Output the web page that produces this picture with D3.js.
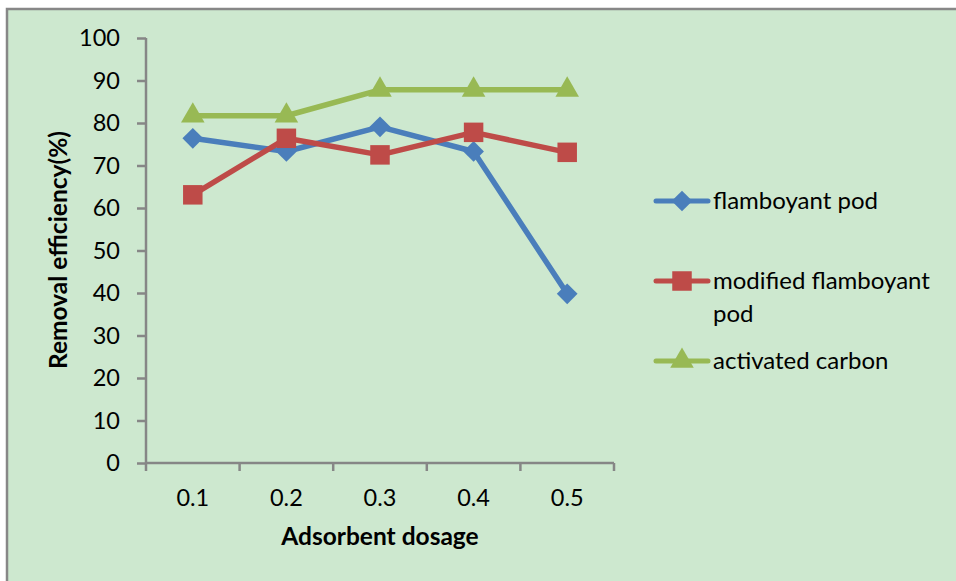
<!DOCTYPE html>
<html>
<head>
<meta charset="utf-8">
<script src="https://cdn.jsdelivr.net/npm/d3@7"></script>
<style>
  body { margin: 0; background: #fff; }
  svg { display: block; }
  text { font-family: Lato, "Open Sans", sans-serif; fill: #000; }
</style>
</head>
<body>
<div id="chart"></div>
<script>
// data
var dosage = ["0.1", "0.2", "0.3", "0.4", "0.5"];
var flamboyant = [76.4, 73.3, 79.1, 73.3, 39.8];
var modified = [63.1, 76.4, 72.5, 77.8, 73.1];
var activated = [81.7, 81.7, 87.8, 87.8, 87.8];
var yTicks = [0, 10, 20, 30, 40, 50, 60, 70, 80, 90, 100];

var seriesList = [
    {name: ["flamboyant pod"], values: flamboyant, color: "#4A7EBB", marker: "diamond"},
    {name: ["modified flamboyant", "pod"], values: modified, color: "#BE4B48", marker: "square"},
    {name: ["activated carbon"], values: activated, color: "#98B954", marker: "triangle"}
];

var svgWidth = 956, svgHeight = 581;
var margin = {top: 38, left: 146};
var width = 468, height = 425;

var svgBG = d3.select("#chart").append("svg")
    .attr("width", svgWidth)
    .attr("height", svgHeight);

// chart area background + frame
svgBG.append("rect")
    .attr("x", 7).attr("y", 9)
    .attr("width", 960).attr("height", 590)
    .attr("fill", "#CDE8CF")
    .attr("stroke", "#878787")
    .attr("stroke-width", 2.5);

var svg = svgBG.append("g")
    .attr("transform", "translate(" + margin.left + "," + margin.top + ")");

var x = d3.scaleBand().domain(dosage).range([0, width]);
var y = d3.scaleLinear().domain([0, 100]).range([height, 0]);

var yAxis = d3.axisLeft(y).tickValues(yTicks).tickSize(9).tickPadding(17);
var xAxis = d3.axisBottom(x).tickSize(0).tickPadding(26);

var yAxisSVG = svg.append("g").attr("class", "y axis").call(yAxis);
var xAxisSVG = svg.append("g").attr("class", "x axis")
    .attr("transform", "translate(0," + height + ")")
    .call(xAxis);

// x ticks sit on band edges
xAxisSVG.selectAll(".edge")
    .data(d3.range(dosage.length + 1))
    .enter().append("line")
    .attr("x1", function(i) { return i * x.step(); })
    .attr("x2", function(i) { return i * x.step(); })
    .attr("y1", 0).attr("y2", 8);

svg.selectAll(".axis path, .axis line")
    .attr("stroke", "#868686")
    .attr("stroke-width", 2.5);
svg.selectAll(".axis path").attr("d", null);
yAxisSVG.append("line").attr("x1", 0).attr("x2", 0).attr("y1", 0).attr("y2", height)
    .attr("stroke", "#868686").attr("stroke-width", 2.5);
xAxisSVG.append("line").attr("x1", 0).attr("x2", width).attr("y1", 0).attr("y2", 0)
    .attr("stroke", "#868686").attr("stroke-width", 2.5);

svg.selectAll(".axis text")
    .style("font-size", "23.5px")
    .style("font-family", "Lato, sans-serif")
    .attr("fill", "#000");

// axis titles
svgBG.append("text")
    .attr("x", 380).attr("y", 545)
    .attr("text-anchor", "middle")
    .style("font-size", "24.5px").style("font-weight", "bold")
    .text("Adsorbent dosage");

svgBG.append("text")
    .attr("transform", "translate(67,250) rotate(-90)")
    .attr("text-anchor", "middle")
    .style("font-size", "24.5px").style("font-weight", "bold")
    .text("Removal efficiency(%)");

var symbolFor = {
    diamond: d3.symbol().type(d3.symbolSquare).size(215),
    square: d3.symbol().type(d3.symbolSquare).size(380),
    triangle: d3.symbol().type(d3.symbolTriangle).size(240)
};

function drawMarker(g, s, cx, cy) {
    g.append("path")
        .attr("d", symbolFor[s.marker]())
        .attr("transform", "translate(" + cx + "," + cy + ")" + (s.marker == "diamond" ? " rotate(45)" : ""))
        .attr("fill", s.color);
}

var line = d3.line()
    .x(function(d, i) { return x(dosage[i]) + x.bandwidth() / 2; })
    .y(function(d) { return y(d); });

seriesList.forEach(function(s) {
    svg.append("path")
        .datum(s.values)
        .attr("d", line)
        .attr("fill", "none")
        .attr("stroke", s.color)
        .attr("stroke-width", 5.5)
        .attr("stroke-linejoin", "round")
        .attr("stroke-linecap", "round");
    s.values.forEach(function(v, i) {
        drawMarker(svg, s, x(dosage[i]) + x.bandwidth() / 2, y(v));
    });
});

// legend
var legendY = [201, 281, 361];
var legend = svgBG.append("g");
seriesList.forEach(function(s, k) {
    var ly = legendY[k];
    legend.append("line")
        .attr("x1", 656).attr("x2", 708)
        .attr("y1", ly).attr("y2", ly)
        .attr("stroke", s.color).attr("stroke-width", 5)
        .attr("stroke-linecap", "round");
    drawMarker(legend, s, 682, ly);
    s.name.forEach(function(t, j) {
        legend.append("text")
            .attr("x", 713).attr("y", ly + 8 + j * 33)
            .style("font-size", "24px")
            .text(t);
    });
});
</script>
</body>
</html>
